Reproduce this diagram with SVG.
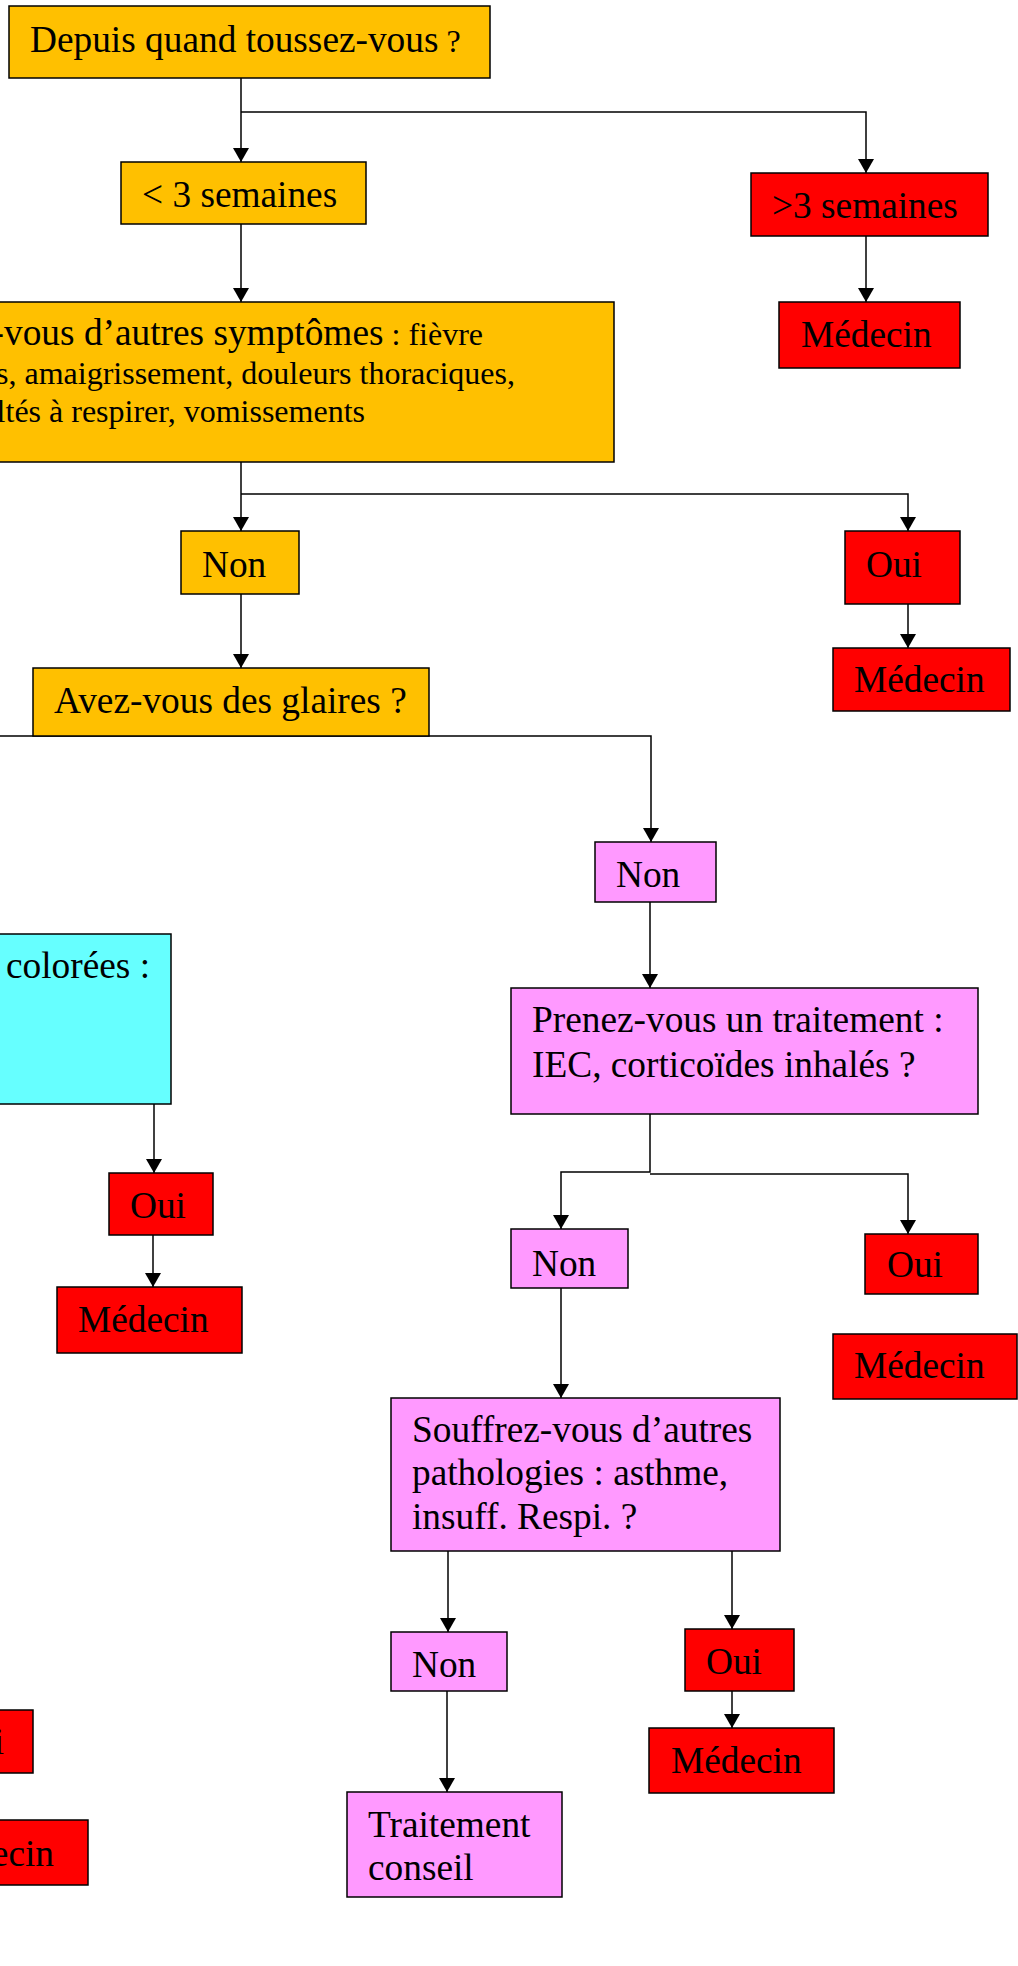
<svg xmlns="http://www.w3.org/2000/svg" width="1018" height="1966" viewBox="0 0 1018 1966">
<style>
text{font-family:"Liberation Serif","Times New Roman",serif;font-size:37.33px;fill:#000}
.s{font-size:32px}
rect{stroke:#000;stroke-width:1.5}
.y{fill:#FFC000}.r{fill:#FF0000}.p{fill:#FF99FF}.c{fill:#66FFFF}
.ln{fill:none;stroke:#000;stroke-width:1.5}
</style>
<defs>
<marker id="ah" markerUnits="userSpaceOnUse" markerWidth="16" markerHeight="16" refX="14" refY="8" orient="auto">
<path d="M0,0 L14,8 L0,16 z" fill="#000"/>
</marker>
</defs>
<rect width="1018" height="1966" fill="#fff" style="stroke:none"/>
<g id="connectors">
<path class="ln" d="M241,78 V162" marker-end="url(#ah)"/>
<path class="ln" d="M241,112 H866 V173" marker-end="url(#ah)"/>
<path class="ln" d="M241,224 V302" marker-end="url(#ah)"/>
<path class="ln" d="M866,236 V302" marker-end="url(#ah)"/>
<path class="ln" d="M241,462 V531" marker-end="url(#ah)"/>
<path class="ln" d="M241,494 H908 V531" marker-end="url(#ah)"/>
<path class="ln" d="M241,594 V668" marker-end="url(#ah)"/>
<path class="ln" d="M908,604 V648" marker-end="url(#ah)"/>
<path class="ln" d="M-5,736 H651 V842" marker-end="url(#ah)"/>
<path class="ln" d="M650,902 V988" marker-end="url(#ah)"/>
<path class="ln" d="M154,1104 V1173" marker-end="url(#ah)"/>
<path class="ln" d="M153,1235 V1287" marker-end="url(#ah)"/>
<path class="ln" d="M650,1114 V1172 H561 V1229" marker-end="url(#ah)"/>
<path class="ln" d="M650,1174 H908 V1234" marker-end="url(#ah)"/>
<path class="ln" d="M561,1288 V1398" marker-end="url(#ah)"/>
<path class="ln" d="M448,1551 V1632" marker-end="url(#ah)"/>
<path class="ln" d="M732,1551 V1629" marker-end="url(#ah)"/>
<path class="ln" d="M447,1691 V1792" marker-end="url(#ah)"/>
<path class="ln" d="M732,1691 V1728" marker-end="url(#ah)"/>
</g>
<g id="n-depuis"><rect class="y" x="9" y="6" width="481" height="72"/><text x="30" y="52">Depuis quand toussez-vous<tspan class="s"> ?</tspan></text></g>
<g id="n-moins3"><rect class="y" x="121" y="162" width="245" height="62"/><text x="142" y="207">&lt; 3 semaines</text></g>
<g id="n-plus3"><rect class="r" x="751" y="173" width="237" height="63"/><text x="772" y="218">&gt;3 semaines</text></g>
<g id="n-medecin1"><rect class="r" x="779" y="302" width="181" height="66"/><text x="801" y="347">Médecin</text></g>
<g id="n-symptomes"><rect class="y" x="-10" y="302" width="624" height="160"/>
<text x="483" y="345" text-anchor="end">-vous d’autres symptômes<tspan class="s"> : fièvre</tspan></text>
<text class="s" x="515" y="384" text-anchor="end">s, amaigrissement, douleurs thoraciques,</text>
<text class="s" x="365" y="422" text-anchor="end">ltés à respirer, vomissements</text></g>
<g id="n-non1"><rect class="y" x="181" y="531" width="118" height="63"/><text x="202" y="577">Non</text></g>
<g id="n-oui1"><rect class="r" x="845" y="531" width="115" height="73"/><text x="866" y="577">Oui</text></g>
<g id="n-medecin2"><rect class="r" x="833" y="648" width="177" height="63"/><text x="854" y="692">Médecin</text></g>
<g id="n-glaires"><rect class="y" x="33" y="668" width="396" height="68"/><text x="54" y="713">Avez-vous des glaires ?</text></g>
<g id="n-non2"><rect class="p" x="595" y="842" width="121" height="60"/><text x="616" y="887">Non</text></g>
<g id="n-colorees"><rect class="c" x="-10" y="934" width="181" height="170"/><text x="6" y="978">colorées :</text></g>
<g id="n-oui2"><rect class="r" x="109" y="1173" width="104" height="62"/><text x="130" y="1218">Oui</text></g>
<g id="n-medecin3"><rect class="r" x="57" y="1287" width="185" height="66"/><text x="78" y="1332">Médecin</text></g>
<g id="n-traitement"><rect class="p" x="511" y="988" width="467" height="126"/><text x="532" y="1032">Prenez-vous un traitement :</text><text x="532" y="1077">IEC, corticoïdes inhalés ?</text></g>
<g id="n-non3"><rect class="p" x="511" y="1229" width="117" height="59"/><text x="532" y="1276">Non</text></g>
<g id="n-oui3"><rect class="r" x="865" y="1234" width="113" height="60"/><text x="887" y="1277">Oui</text></g>
<g id="n-medecin4"><rect class="r" x="833" y="1334" width="184" height="65"/><text x="854" y="1378">Médecin</text></g>
<g id="n-pathologies"><rect class="p" x="391" y="1398" width="389" height="153"/><text x="412" y="1442">Souffrez-vous d’autres</text><text x="412" y="1485">pathologies : asthme,</text><text x="412" y="1529">insuff. Respi. ?</text></g>
<g id="n-non4"><rect class="p" x="391" y="1632" width="116" height="59"/><text x="412" y="1677">Non</text></g>
<g id="n-oui4"><rect class="r" x="685" y="1629" width="109" height="62"/><text x="706" y="1674">Oui</text></g>
<g id="n-medecin5"><rect class="r" x="649" y="1728" width="185" height="65"/><text x="671" y="1773">Médecin</text></g>
<g id="n-conseil"><rect class="p" x="347" y="1792" width="215" height="105"/><text x="368" y="1837">Traitement</text><text x="368" y="1880">conseil</text></g>
<g id="n-oui5"><rect class="r" x="-10" y="1710" width="43" height="63"/><text x="4" y="1754" text-anchor="end">i</text></g>
<g id="n-medecin6"><rect class="r" x="-10" y="1820" width="98" height="65"/><text x="54" y="1866" text-anchor="end">ecin</text></g>
</svg>
